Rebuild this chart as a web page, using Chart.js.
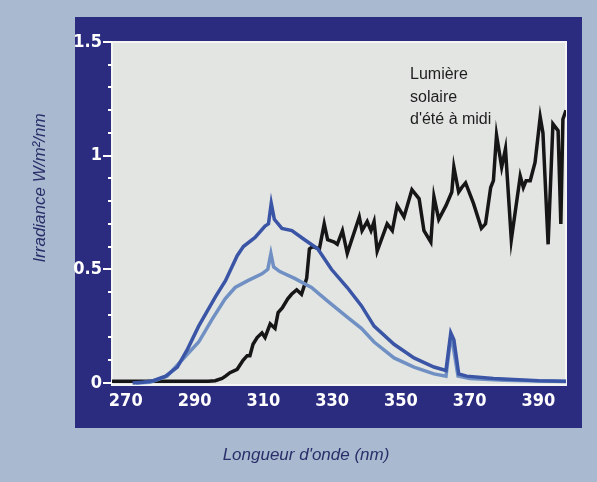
<!DOCTYPE html>
<html lang="fr">
<head>
<meta charset="UTF-8">
<title>Irradiance solaire</title>
<script src="https://cdn.jsdelivr.net/npm/chart.js"></script>
<style>
    body { margin: 0; background: #a9b9cf; }
    #wrap { width: 597px; height: 482px; }
</style>
</head>
<body>
<div id="wrap"><canvas id="spectre" width="597" height="482"></canvas></div>
<script>
// --- données ---
const soleilNm = [266, 280, 294, 296, 298, 299, 300.3, 302.4, 304.1, 305.3, 306.1, 307, 308.2, 309.6, 310.5, 312, 313.4, 314.3, 315.5, 317.1, 318.2, 319.7, 321.1, 322.6, 323.4, 324.3, 326.3, 327.7, 328.7, 330.6, 331.5, 333, 334.4, 337.9, 338.7, 340.2, 341.3, 342.2, 343.1, 346, 347.5, 348.9, 350.9, 353.2, 355.3, 356.7, 358.7, 359.6, 361, 363.1, 364.8, 365.4, 366.8, 367.7, 368.8, 371.1, 373.4, 374.6, 376.1, 376.9, 377.8, 379.3, 380.4, 382.1, 384.7, 385.6, 386.4, 387.6, 389, 390.5, 391.3, 392.8, 394.2, 395.7, 396.5, 397.1, 398];
const soleilVal = [0.008, 0.008, 0.008, 0.01, 0.02, 0.03, 0.045, 0.06, 0.1, 0.12, 0.12, 0.17, 0.2, 0.22, 0.2, 0.26, 0.24, 0.31, 0.33, 0.37, 0.39, 0.41, 0.39, 0.46, 0.59, 0.6, 0.59, 0.7, 0.63, 0.62, 0.61, 0.67, 0.57, 0.73, 0.67, 0.71, 0.67, 0.71, 0.58, 0.7, 0.67, 0.78, 0.73, 0.85, 0.81, 0.67, 0.62, 0.82, 0.72, 0.78, 0.84, 0.95, 0.84, 0.86, 0.88, 0.79, 0.68, 0.7, 0.86, 0.89, 1.09, 0.95, 1.03, 0.63, 0.91, 0.86, 0.89, 0.89, 0.97, 1.17, 1.1, 0.61, 1.14, 1.11, 0.7, 1.16, 1.2];

const foncéNm = [272, 275, 278, 281.6, 285, 288, 291.2, 296.1, 299, 302.4, 304.2, 307.6, 310.5, 311.5, 312.3, 313.2, 315.4, 318.3, 322, 325.8, 329.8, 334.4, 338.5, 342.2, 348, 353.8, 359.6, 363.1, 364.5, 365.4, 366.8, 369.1, 376.9, 390, 398];
const foncéVal = [0, 0.003, 0.01, 0.03, 0.07, 0.15, 0.25, 0.38, 0.45, 0.56, 0.6, 0.64, 0.69, 0.7, 0.79, 0.72, 0.68, 0.67, 0.63, 0.59, 0.5, 0.42, 0.34, 0.25, 0.17, 0.11, 0.07, 0.055, 0.22, 0.19, 0.04, 0.03, 0.02, 0.01, 0.008];

const clairNm = [273, 277, 282, 285.7, 291.2, 295.1, 298.9, 301.8, 305.5, 309.6, 311.3, 312.2, 313, 314.8, 319.1, 324, 328.7, 334.4, 338.5, 342.2, 348, 353.8, 359.6, 363.1, 364.4, 365.2, 366.6, 370, 380, 398];
const clairVal = [0, 0.003, 0.03, 0.09, 0.18, 0.28, 0.37, 0.42, 0.45, 0.48, 0.5, 0.57, 0.51, 0.49, 0.46, 0.42, 0.36, 0.29, 0.24, 0.18, 0.11, 0.07, 0.04, 0.03, 0.19, 0.16, 0.03, 0.02, 0.012, 0.006];

const xTicks = [270, 290, 310, 330, 350, 370, 390];
const yTicks = [0, 0.5, 1, 1.5];
const yMinorTicks = [0, 0.1, 0.2, 0.3, 0.4, 0.5, 0.6, 0.7, 0.8, 0.9, 1, 1.1, 1.2, 1.3, 1.4, 1.5];

const toPoints = (xs, ys) => xs.map((x, i) => ({ x, y: ys[i] }));
const tickFont = { family: '"Liberation Sans Narrow", "DejaVu Sans Condensed", sans-serif', size: 18, weight: 'bold' };

// fond, cadre bleu nuit, zone de tracé et textes
const decor = {
    id: 'decor',
    beforeDraw(chart) {
        const { ctx, chartArea: a } = chart;
        ctx.save();
        ctx.fillStyle = '#a9b9cf';
        ctx.fillRect(0, 0, chart.width, chart.height);
        ctx.fillStyle = '#2b2c80';
        ctx.fillRect(75, 17, 507, 411);
        ctx.fillStyle = '#e3e5e3';
        ctx.fillRect(a.left, a.top, a.right - a.left, a.bottom - a.top);
        ctx.strokeStyle = '#f4f5f4';
        ctx.lineWidth = 2;
        ctx.strokeRect(a.left, a.top, a.right - a.left, a.bottom - a.top);
        ctx.restore();
    },
    afterDraw(chart) {
        const { ctx, chartArea: a } = chart;
        ctx.save();
        ctx.fillStyle = '#2a2f6a';
        ctx.font = 'italic 17px "Liberation Sans", Arial, sans-serif';
        ctx.textAlign = 'center';
        ctx.textBaseline = 'middle';
        ctx.fillText("Longueur d'onde (nm)", 306, 455);
        ctx.translate(40, 188);
        ctx.rotate(-Math.PI / 2);
        ctx.fillText('Irradiance W/m²/nm', 0, 0);
        ctx.restore();

        ctx.save();
        ctx.fillStyle = '#1e1e1e';
        ctx.font = '16px "Liberation Sans", Arial, sans-serif';
        ctx.textAlign = 'left';
        ctx.textBaseline = 'middle';
        ['Lumière', 'solaire', "d'été à midi"].forEach((t, i) => ctx.fillText(t, 410, 75 + i * 22.5));
        ctx.restore();
    }
};

new Chart(document.getElementById('spectre'), {
    type: 'line',
    data: {
        datasets: [
            { label: 'UV foncé', data: toPoints(foncéNm, foncéVal), borderColor: '#3a55a5', borderWidth: 3.5, pointRadius: 0, tension: 0 },
            { label: 'UV clair', data: toPoints(clairNm, clairVal), borderColor: '#7090c4', borderWidth: 3.5, pointRadius: 0, tension: 0 },
            { label: "Lumière solaire d'été à midi", data: toPoints(soleilNm, soleilVal), borderColor: '#161616', borderWidth: 3.5, pointRadius: 0, tension: 0 }
        ]
    },
    options: {
        responsive: false,
        animation: false,
        layout: { padding: { left: 0, right: 31, top: 42, bottom: 0 } },
        plugins: { legend: { display: false }, tooltip: { enabled: false } },
        scales: {
            x: {
                type: 'linear', min: 266, max: 398,
                afterBuildTicks: s => { s.ticks = xTicks.map(v => ({ value: v })); },
                afterFit: s => { s.height = 97; },
                grid: { display: false, drawTicks: false },
                border: { display: false },
                ticks: { color: '#ffffff', font: tickFont, padding: 6, maxRotation: 0 }
            },
            y: {
                type: 'linear', position: 'left', weight: 1, min: -0.009, max: 1.5,
                afterBuildTicks: s => { s.ticks = yTicks.map(v => ({ value: v })); },
                afterFit: s => { s.width = 112; },
                grid: { drawOnChartArea: false, drawTicks: true, tickLength: 9, color: '#ffffff', lineWidth: 2 },
                border: { display: false },
                ticks: { color: '#ffffff', font: tickFont, padding: 1, callback: v => String(v) }
            },
            yMinor: {
                type: 'linear', position: 'left', weight: 0, min: -0.009, max: 1.5,
                afterBuildTicks: s => { s.ticks = yMinorTicks.map(v => ({ value: v })); },
                afterFit: s => { s.width = 0; },
                grid: { drawOnChartArea: false, drawTicks: true, tickLength: 4, color: '#ffffff', lineWidth: 2 },
                border: { display: false },
                ticks: { display: false }
            }
        }
    },
    plugins: [decor]
});
</script>
</body>
</html>
